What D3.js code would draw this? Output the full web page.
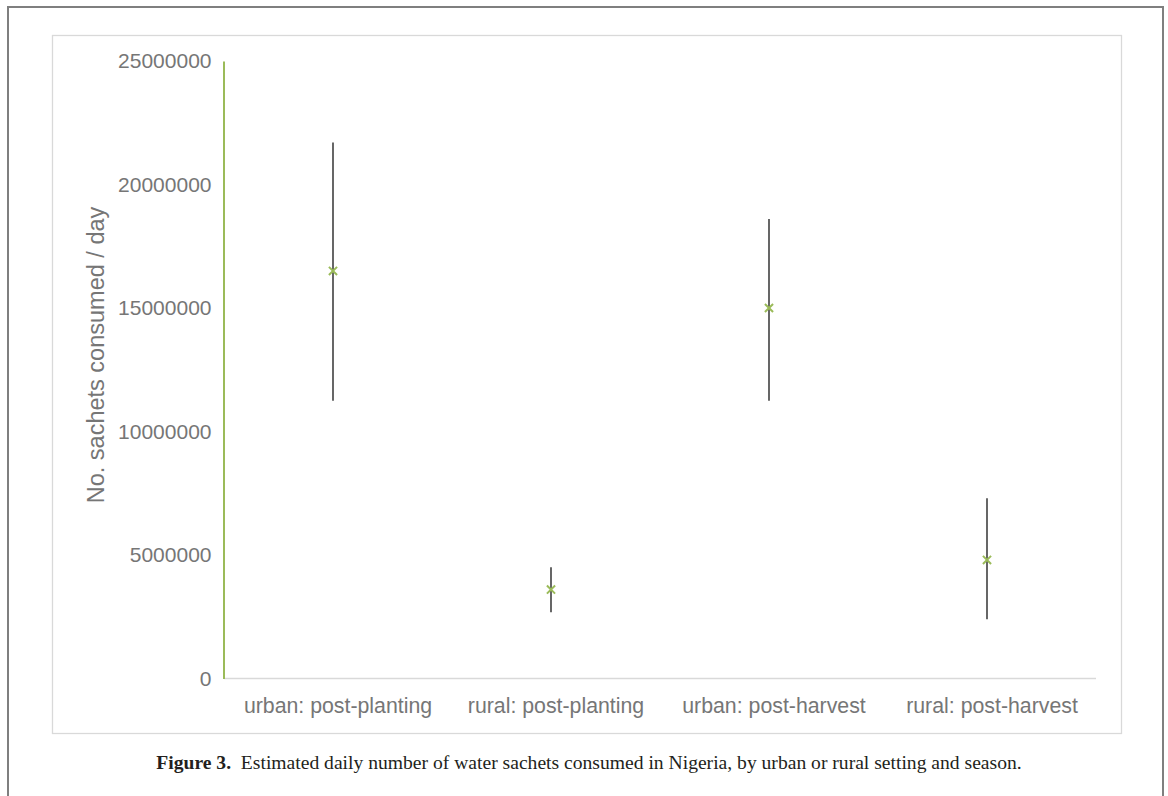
<!DOCTYPE html>
<html><head><meta charset="utf-8">
<script src="https://cdn.jsdelivr.net/npm/d3@7"></script>
<style>body{margin:0;background:#fff}svg{display:block}</style>
</head><body>
<svg id="c" width="1168" height="796"></svg>
<script>
const categories = ["urban: post-planting","rural: post-planting","urban: post-harvest","rural: post-harvest"];
const estimates = [16500000, 3600000, 15000000, 4800000];
const lowerBounds = [11250000, 2680000, 11250000, 2400000];
const upperBounds = [21700000, 4500000, 18600000, 7300000];
const yTicks = [0, 5000000, 10000000, 15000000, 20000000, 25000000];

const svg = d3.select("#c");
// outer frame
svg.append("rect").attr("x",8).attr("y",7).attr("width",1155).attr("height",800)
  .attr("fill","none").attr("stroke","#7f7f7f").attr("stroke-width",2);
// chart area box
svg.append("rect").attr("x",52.5).attr("y",35.5).attr("width",1069).attr("height",698)
  .attr("fill","none").attr("stroke","#d9d9d9").attr("stroke-width",1.3);

const x = d3.scaleBand().domain(categories).range([224,1096]);
const y = d3.scaleLinear().domain([0,25000000]).range([678.5,61]);

// baseline
svg.append("line").attr("x1",224).attr("x2",1096).attr("y1",y(0)).attr("y2",y(0))
  .attr("stroke","#d9d9d9").attr("stroke-width",1.5);

// y axis
const yAxis = d3.axisLeft(y).tickValues(yTicks).tickFormat(d3.format("d")).tickSize(0).tickPadding(12);
const ga = svg.append("g").attr("transform","translate(223.5,0)").call(yAxis);
ga.select(".domain").attr("stroke","#9bbb59").attr("stroke-width",2);
ga.selectAll("text").attr("fill","#767676").style("font-family","Liberation Sans, Arial, sans-serif").style("font-size","21px");

// x axis labels
const xAxis = d3.axisBottom(x).tickSize(0).tickPadding(19);
const gx = svg.append("g").attr("transform",`translate(0,${y(0)})`).call(xAxis);
gx.select(".domain").remove();
gx.selectAll("text").attr("dx",5).attr("fill","#767676").style("font-family","Liberation Sans, Arial, sans-serif").style("font-size","21.3px");

// y label
svg.append("text").attr("transform","translate(104,355) rotate(-90)").attr("text-anchor","middle")
  .attr("fill","#767676").style("font-family","Liberation Sans, Arial, sans-serif").style("font-size","23.5px")
  .text("No. sachets consumed / day");

// error bars
const cx = d => x(d) + x.bandwidth()/2;
svg.append("g").selectAll("line").data(categories).join("line")
  .attr("x1",cx).attr("x2",cx)
  .attr("y1",(d,i)=>y(upperBounds[i])).attr("y2",(d,i)=>y(lowerBounds[i]))
  .attr("stroke","#404040").attr("stroke-width",1.6);

// markers
const mk = d3.symbol().type(d3.symbolX).size(45);
svg.append("g").selectAll("path").data(categories).join("path")
  .attr("d",mk)
  .attr("transform",(d,i)=>`translate(${cx(d)},${y(estimates[i])})`)
  .attr("fill","none").attr("stroke","#9bbb59").attr("stroke-width",2);

// caption
const cap = svg.append("text").attr("x",589).attr("y",769).attr("text-anchor","middle")
  .attr("fill","#231f20").style("font-family","Liberation Serif, Times New Roman, serif").style("font-size","19.6px");
cap.append("tspan").attr("font-weight","bold").text("Figure 3.");
cap.append("tspan").text("\u2002Estimated daily number of water sachets consumed in Nigeria, by urban or rural setting and season.");
</script>
</body></html>
